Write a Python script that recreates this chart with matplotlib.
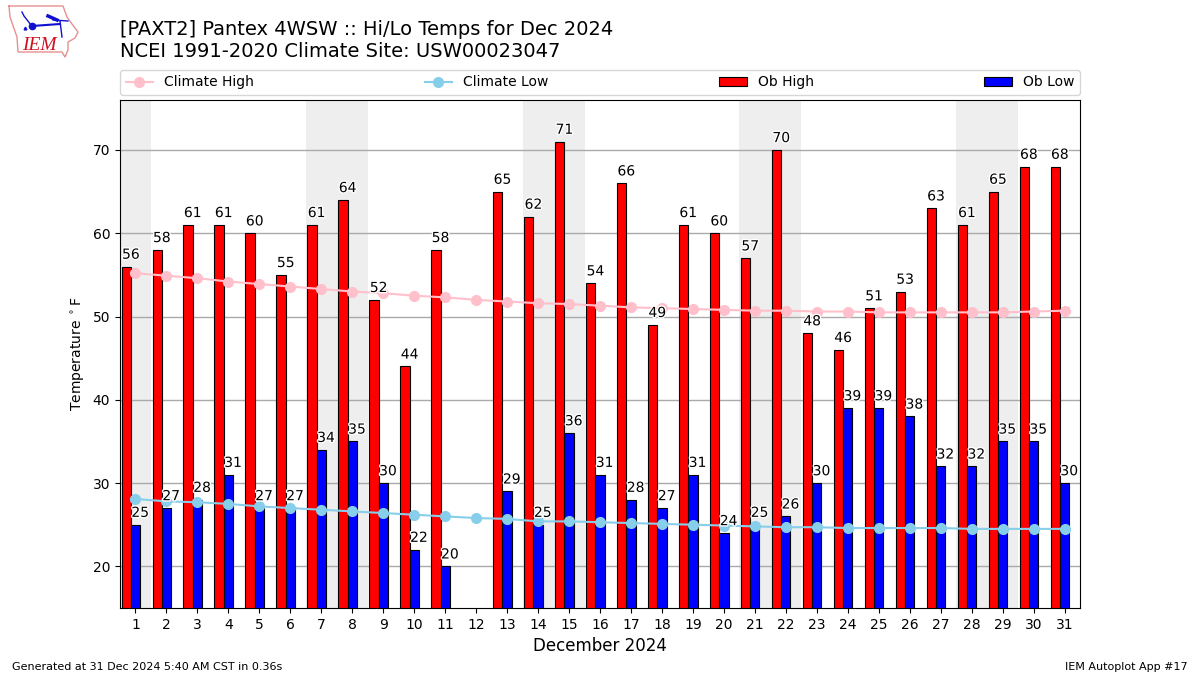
import numpy as np
import matplotlib
matplotlib.use('Agg')
import matplotlib.pyplot as plt
import matplotlib.patheffects as pe

days = list(range(1, 32))
ob_high = [56, 58, 61, 61, 60, 55, 61, 64, 52, 44, 58, None, 65, 62, 71, 54,
           66, 49, 61, 60, 57, 70, 48, 46, 51, 53, 63, 61, 65, 68, 68]
ob_low = [25, 27, 28, 31, 27, 27, 34, 35, 30, 22, 20, None, 29, 25, 36, 31,
          28, 27, 31, 24, 25, 26, 30, 39, 39, 38, 32, 32, 35, 35, 30]
climate_high = [55.2, 54.9, 54.6, 54.2, 53.9, 53.6, 53.3, 53.0, 52.8, 52.5, 52.3,
                52.0, 51.8, 51.6, 51.5, 51.3, 51.1, 51.0, 50.9, 50.8, 50.7, 50.7,
                50.6, 50.6, 50.5, 50.5, 50.5, 50.5, 50.5, 50.6, 50.7]
climate_low = [28.1, 27.8, 27.7, 27.5, 27.2, 27.0, 26.8, 26.6, 26.4, 26.2, 26.0,
               25.8, 25.7, 25.4, 25.4, 25.3, 25.2, 25.1, 25.0, 24.9, 24.8, 24.7,
               24.7, 24.6, 24.6, 24.6, 24.6, 24.5, 24.5, 24.5, 24.5]
weekends = [(0.5, 1.5), (6.5, 8.5), (13.5, 15.5), (20.5, 22.5), (27.5, 29.5)]

# rough outline of the state for the logo, in pixels
iowa_x = [9, 63, 67, 72, 78, 75, 68, 68, 65, 62, 18, 17, 10, 9]
iowa_y = [6, 6, 17, 24, 32, 38, 42, 50, 57, 52, 52, 37, 17, 6]

fig = plt.figure(figsize=(12, 6.75), dpi=100)
ax = fig.add_axes([120 / 1200, 1 - 608 / 675, 960 / 1200, 508 / 675])

for start, end in weekends:
    ax.axvspan(start, end, color='#eeeeee', lw=0, zorder=0)
ax.grid(axis='y', color='#aaaaaa', lw=1, zorder=1)
ax.set_axisbelow(True)

x = np.array(days)
highs = np.array(ob_high, dtype=float)
lows = np.array(ob_low, dtype=float)
ax.bar(x - 0.3, highs, width=0.3, color='r', edgecolor='k', lw=0.8, label='Ob High', zorder=2)
ax.bar(x, lows, width=0.3, color='b', edgecolor='k', lw=0.8, label='Ob Low', zorder=2)
ax.plot(days, climate_high, color='pink', marker='o', ms=7, lw=1.5, label='Climate High', zorder=3)
ax.plot(days, climate_low, color='skyblue', marker='o', ms=7, lw=1.5, label='Climate Low', zorder=3)

stroke = [pe.withStroke(linewidth=2, foreground='white')]
for d, hi, lo in zip(days, ob_high, ob_low):
    if hi is None:
        continue
    ax.annotate(str(hi), (d - 0.15, hi), xytext=(0, 3.5), textcoords='offset points',
                ha='center', va='bottom', fontsize=10, path_effects=stroke, zorder=4)
    ax.annotate(str(lo), (d + 0.15, lo), xytext=(0, 3.5), textcoords='offset points',
                ha='center', va='bottom', fontsize=10, path_effects=stroke, zorder=4)

ax.set_xlim(0.5, 31.5)
ax.set_ylim(15, 76)
ax.set_xticks(days)
ax.set_yticks([20, 30, 40, 50, 60, 70])
ax.set_xlabel('December 2024', fontsize=12)
ax.set_ylabel(r'Temperature $^\circ$F')

handles, labels = ax.get_legend_handles_labels()
order = [labels.index(n) for n in ['Climate High', 'Climate Low', 'Ob High', 'Ob Low']]
fig.legend([handles[i] for i in order], [labels[i] for i in order], ncol=4, mode='expand',
           loc='lower left', bbox_to_anchor=(120 / 1200, 1 - 95 / 675, 960 / 1200, 26 / 675),
           borderaxespad=0)

fig.text(120 / 1200, 1 - 61 / 675, '[PAXT2] Pantex 4WSW :: Hi/Lo Temps for Dec 2024\n'
         'NCEI 1991-2020 Climate Site: USW00023047', fontsize=14, ha='left', va='bottom')
fig.text(12 / 1200, 1 - 670 / 675, 'Generated at 31 Dec 2024 5:40 AM CST in 0.36s', fontsize=8)
fig.text(1188 / 1200, 1 - 670 / 675, 'IEM Autoplot App #17', fontsize=8, ha='right')

# logo
logo = fig.add_axes([0, 1 - 60 / 675, 85 / 1200, 60 / 675])
logo.set_xlim(0, 85)
logo.set_ylim(60, 0)
logo.axis('off')
logo.plot(iowa_x, iowa_y, color='#e89090', lw=1)
logo.plot([32, 60], [26, 24], color='#1010d0', lw=1.5)
logo.plot([32], [26], 'o', color='#1010d0', ms=4.5)
logo.plot([48, 57], [16, 20], color='#1010d0', lw=2.5)
logo.plot([53, 68], [20, 21], color='#1010d0', lw=1)
logo.plot([22, 24, 31], [12, 16, 25], color='#1010d0', lw=1)
logo.plot([60, 62], [21, 37], color='#1010d0', lw=1)
logo.plot([25], [28], '^', color='#1010d0', ms=2)
logo.text(22, 50, 'IEM', color='#d01020', fontsize=14, family='Liberation Serif',
          style='italic', ha='left', va='baseline')

fig.savefig('out.png', dpi=100)
